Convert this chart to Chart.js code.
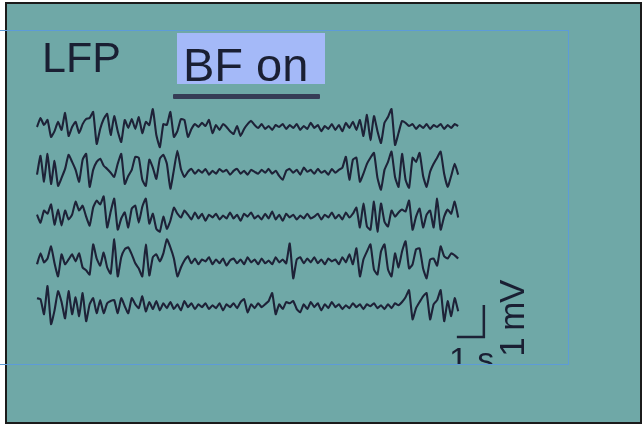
<!DOCTYPE html>
<html lang="en">
<head>
    <meta charset="UTF-8">
    <title>LFP - BF on</title>
    <script src="https://cdn.jsdelivr.net/npm/chart.js"></script>
    <style>
        html, body { margin: 0; padding: 0; background: #fff; }
        body { width: 642px; height: 426px; position: relative; overflow: hidden;
               font-family: "Liberation Sans", Arial, sans-serif; color: #1a1f33; }
        .frame { position: absolute; left: 5px; top: 2px; width: 633px; height: 418px;
                 background: #6fa8a7; border: 2px solid #1b1b1b; }
        #lfp { position: absolute; left: 0; top: 0; }
        .panel { position: absolute; left: 0; top: 30px; width: 569px; height: 335px; box-sizing: border-box;
                 border: 1.5px solid #5d9bd8; border-left: none; overflow: hidden; }
        .panel div { position: absolute; line-height: 1; white-space: nowrap; }
        .lfp-title { left: 42px; top: 5px; font-size: 43px; }
        .bf-box { left: 177px; top: 2px; width: 148px; height: 51px; background: #a4b9f8; }
        .bf-text { left: 183px; top: 10px; font-size: 47px; }
        .bf-bar { left: 173px; top: 63px; width: 147px; height: 5px; background: #363d56; border-radius: 1px; }
        .sec-label { left: 449px; top: 311px; font-size: 34px; }
        .mv-label { left: 511px; top: 288px; font-size: 35px; letter-spacing: -1.5px;
                    transform: translate(-50%, -50%) rotate(-90deg); }
    </style>
</head>
<body>
    <div class="frame"></div>
    <canvas id="lfp" width="642" height="426"></canvas>
    <div class="panel">
        <div class="lfp-title">LFP</div>
        <div class="bf-box"></div>
        <div class="bf-text">BF on</div>
        <div class="bf-bar"></div>
        <div class="sec-label">1 s</div>
        <div class="mv-label">1 mV</div>
    </div>

    <script>
        // LFP traces, mV, one sample every 0.13 s
        const sampleStep = 0.13;
        const channel1 = [
            0, .28, .06, .22, -.31, -.13, .16, -.09, .44, -.28,
            0, .16, -.19, .09, .25, .28, .47, -.53, -.06, .25,
            .41, -.25, .34, -.13, -.47, .22, -.03, .25, -.06, .31,
            -.19, .16, .06, .56, -.25, -.63, .09, .06, .47, -.31,
            -.13, .25, .22, -.31, -.06, .09, 0, .13, .03, .22,
            -.19, .06, -.09, .09, 0, -.13, -.22, .03, -.28, -.06,
            .09, .19, .06, -.03, .09, -.06, .03, -.09, .06, 0,
            .09, -.06, .06, -.03, .09, -.09, .03, -.06, .13, -.03,
            .06, -.13, .03, -.06, .09, -.09, .06, -.13, .13, -.03,
            .16, -.09, .22, -.28, .38, -.41, .34, -.13, -.5, .13,
            .31, .56, -.56, -.19, .19, .13, .03, .09, -.06, .06,
            -.03, .09, -.06, .06, 0, .09, -.06, .06, -.03, .09, .03
        ];
        const channel2 = [
            -.09, .5, -.31, .56, -.38, .34, -.44, -.19, .09, .53,
            .31, .06, -.31, .38, .56, -.47, .06, .31, .41, .19,
            .09, -.03, -.16, .25, .56, -.38, -.13, .06, .47, .44,
            -.25, -.44, .38, .13, -.22, .41, .53, .25, -.53, .06,
            .66, .09, -.16, 0, .09, -.06, .06, -.03, .09, -.09,
            .03, -.06, .09, 0, .06, -.09, .03, .09, -.06, .03,
            -.09, .06, 0, -.06, .06, -.03, .09, -.06, .03, -.13,
            -.25, .03, .09, -.03, .06, -.09, .13, 0, .06, -.06,
            .09, -.03, .03, -.09, .09, -.03, .06, .13, .47, -.25,
            .38, .44, -.31, -.06, .25, .44, .59, -.19, -.56, .06,
            .31, .63, -.16, -.47, .56, -.25, -.5, .44, .31, .59,
            -.13, -.47, 0, .25, .44, .63, -.06, -.47, -.13, .25, -.09
        ];
        const channel3 = [
            .06, -.19, .19, .09, .38, -.25, .22, -.28, .19, -.09,
            .06, .47, .19, .34, 0, -.28, .28, .5, .38, .63,
            -.34, .16, .56, -.41, -.06, .13, -.34, .25, .34, -.19,
            .31, .56, -.22, .09, -.38, -.47, 0, -.38, -.13, .28,
            .09, -.03, .19, .06, -.09, .13, -.06, .09, -.13, .06,
            -.03, .09, -.09, .03, -.06, .13, -.06, .06, -.13, .09,
            0, .13, -.06, .03, -.09, .09, -.06, .16, -.09, .06,
            -.13, .09, -.03, .06, -.09, .03, -.06, .09, -.06, 0,
            .09, -.09, .06, -.03, .13, -.06, .06, -.09, .13, -.03,
            .09, .28, -.34, .41, -.31, -.41, .47, -.47, .41, -.16,
            -.31, .19, 0, .13, .22, .16, .5, -.41, 0, .25,
            -.34, .06, .19, -.34, .56, -.41, 0, .22, .09, .47, -.03
        ];
        const channel4 = [
            -.09, .25, -.03, .09, .47, -.06, -.47, .22, -.09, .06,
            .22, 0, .25, -.19, -.28, -.41, .53, .09, -.13, .28,
            -.19, -.38, .69, -.47, .13, .38, .44, .22, -.06, -.22,
            -.47, .53, -.44, .13, .22, 0, .25, .69, .44, .09,
            -.47, -.19, .03, .16, -.06, .09, -.09, .06, 0, .13,
            -.09, .06, -.06, .09, -.13, .03, .09, -.06, .06, -.09,
            .13, -.03, .06, -.09, .09, -.06, .03, -.09, .13, -.03,
            .06, -.06, .56, -.53, .06, .13, -.06, .09, -.03, .13,
            -.06, .06, -.09, .09, 0, .06, -.09, .13, -.03, .22,
            -.09, .41, -.47, .06, .31, .53, -.25, -.41, .31, .53,
            -.25, -.47, .25, -.19, .31, .63, -.22, -.09, .38, .41,
            -.22, -.53, .06, .09, -.13, .47, .16, .09, .25, .19, .09
        ];
        const channel5 = [
            .25, .22, -.25, .63, -.56, -.13, .47, .13, -.38, .47,
            -.25, .28, -.31, .41, -.47, .06, .25, -.22, .19, -.22,
            .09, .16, .19, -.22, .25, 0, -.22, .25, .06, -.06,
            .31, -.16, .13, -.09, .16, -.13, .09, -.06, .13, -.09,
            .06, -.13, .16, -.03, .09, -.09, .06, -.03, .09, -.09,
            .03, -.06, .09, -.13, .06, -.03, .09, -.06, .13, .22,
            -.19, .06, -.06, .09, -.03, .06, .16, .41, -.25, .06,
            -.09, .13, .09, .16, -.09, -.19, .06, -.09, .13, -.03,
            .09, -.13, .06, -.06, .13, -.03, .06, -.09, .03, -.06,
            .09, -.03, .06, -.09, .06, 0, .09, -.06, .03, -.09,
            .06, -.06, .09, .03, .13, .28, .5, -.41, -.06, .13,
            .31, .41, -.41, .06, .19, .5, -.47, .16, -.31, .25, -.16
        ];
        const channels = [channel1, channel2, channel3, channel4, channel5];

        // layout: stacked channels, scale bar corner (s, mV)
        const channelGap = 1.4;
        const barCorner = { t: 16.55, v: -6.56 };

        const scaleBar = {
            id: 'scaleBar',
            afterDatasetsDraw(chart) {
                const { ctx, scales: { x, y } } = chart;
                const x0 = x.getPixelForValue(barCorner.t - 1);
                const x1 = x.getPixelForValue(barCorner.t);
                const y0 = y.getPixelForValue(barCorner.v);
                const y1 = y.getPixelForValue(barCorner.v + 1);
                ctx.save();
                ctx.strokeStyle = '#1d2236';
                ctx.lineWidth = 2.5;
                ctx.beginPath();
                ctx.moveTo(x0, y0);
                ctx.lineTo(x1, y0);
                ctx.lineTo(x1, y1);
                ctx.stroke();
                ctx.restore();
            }
        };

        new Chart(document.getElementById('lfp'), {
            type: 'line',
            data: {
                datasets: channels.map((ch, k) => ({
                    label: 'LFP ' + (k + 1),
                    data: ch.map((v, i) => ({ x: i * sampleStep, y: v - k * channelGap })),
                    borderColor: '#1e2238',
                    borderWidth: 2.1,
                    pointRadius: 0,
                    tension: 0.15,
                    fill: false
                }))
            },
            options: {
                responsive: false,
                animation: false,
                devicePixelRatio: 1,
                events: [],
                layout: { padding: 0 },
                plugins: { legend: { display: false }, tooltip: { enabled: false } },
                scales: {
                    x: { type: 'linear', display: false, min: -37 / 27, max: 605 / 27 },
                    y: { display: false, min: -299 / 32, max: 127 / 32 }
                }
            },
            plugins: [scaleBar]
        });
    </script>
</body>
</html>
